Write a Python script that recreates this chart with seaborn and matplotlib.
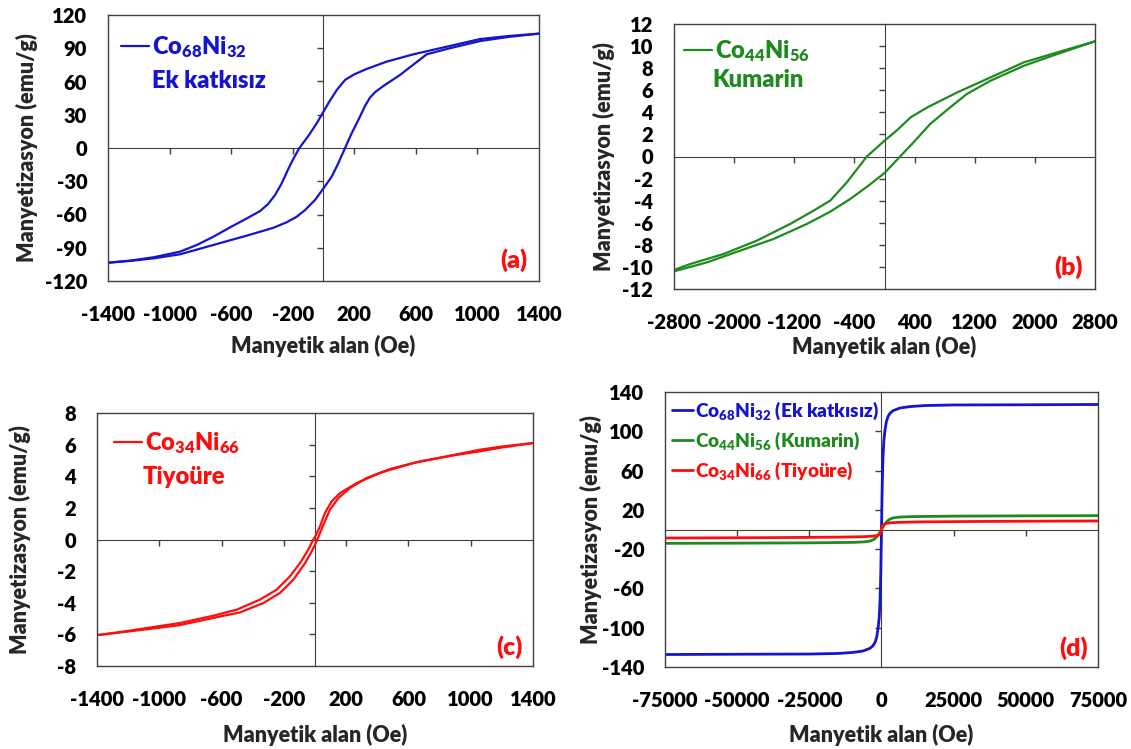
import matplotlib
matplotlib.use("Agg")
import matplotlib.pyplot as plt
import seaborn as sns

# ---- values ----
# (a) Co68Ni32, ek katkisiz
a_h_down = [1400, 1200, 1017, 800, 583, 410, 280, 200, 140, 86, 31, 0, -44, -99, -157,
            -196, -229, -272, -315, -360, -411, -498, -607, -715, -823, -932, -1100, -1250, -1400]
a_m_down = [103.2, 101, 98.3, 91.4, 84.5, 77.9, 71.3, 66.5, 61.4, 52.3, 40.3, 32.8, 22.3, 10.8, 0,
            -9.8, -19, -32, -42.5, -50.5, -56.8, -63.5, -71.6, -80, -87.5, -93.5, -98.5, -101.5, -103.5]
a_h_up = [-1400, -1250, -1100, -932, -716, -499, -326, -239, -174, -120, -55, 0, 53, 96, 140,
          183, 237, 270, 302, 340, 400, 497, 670, 800, 1017, 1200, 1400]
a_m_up = [-103.5, -101.8, -99.5, -95.9, -87.5, -79.1, -72, -67, -62, -56, -46.9, -36.4, -25.9, -13.8, 0,
          13.3, 28.3, 38, 45.5, 51, 57, 65.9, 84.5, 89.3, 96.5, 100.2, 103.2]

# (b) Co44Ni56, kumarin
b_h_down = [2800, 2298, 1855, 1412, 969, 570, 348, 170, 0, -235, -346, -501, -723,
            -945, -1255, -1698, -2141, -2585, -2800]
b_m_down = [10.43, 9.43, 8.53, 7.17, 5.81, 4.45, 3.55, 2.4, 1.43, 0, -0.98, -2.34, -4.0,
            -4.91, -6.11, -7.62, -8.83, -9.74, -10.28]
b_h_up = [-2800, -2363, -1920, -1476, -1033, -723, -457, -235, 0, 208, 386, 607, 873,
          1095, 1412, 1855, 2298, 2800]
b_m_up = [-10.4, -9.59, -8.53, -7.47, -6.11, -5.0, -3.85, -2.75, -1.5, 0, 1.28, 2.94, 4.45,
          5.66, 6.87, 8.22, 9.28, 10.43]

# (c) Co34Ni66, tiyoure
c_h_down = [1400, 1200, 1060, 846, 632, 417, 268, 161, 107, 64, 32, 0, -11, -43, -96, -161,
            -246, -353, -503, -653, -867, -1000, -1200, -1400]
c_m_down = [6.1, 5.88, 5.68, 5.26, 4.84, 4.21, 3.57, 2.94, 2.41, 1.68, 0.83, 0.16, 0, -0.64, -1.49, -2.33,
            -3.17, -3.80, -4.44, -4.82, -5.28, -5.48, -5.78, -6.05]
c_h_up = [-1400, -1200, -1000, -867, -653, -482, -332, -225, -139, -64, -21, 0, 15, 54, 96,
          150, 225, 332, 482, 675, 889, 1060, 1200, 1400]
c_m_up = [-6.05, -5.82, -5.58, -5.41, -4.96, -4.61, -4.02, -3.38, -2.54, -1.49, -0.75, -0.33, 0, 0.94, 1.89,
          2.62, 3.26, 3.89, 4.46, 4.94, 5.32, 5.58, 5.82, 6.1]

# (d) full field range, all three samples
d_h_blue = [-75000, -50000, -25000, -15000, -10000, -6400, -4000, -3000, -2250, -1700, -1200,
            -800, -500, -250, 0, 250, 500, 800, 1200, 1700, 2250, 3000, 4000, 6400, 10000,
            15000, 25000, 50000, 75000]
d_m_blue = [-127.3, -127, -126.8, -126.2, -125.2, -123.7, -121, -118.5, -115, -110, -101,
            -90, -72, -45, 0, 45, 72, 90, 101, 110, 115, 118.5, 121, 123.7, 125.2,
            126.2, 126.8, 127, 127.3]
d_h_green = [-75000, -50000, -25000, -10000, -6000, -4000, -2800, -2000, -1000, 0,
             1000, 2000, 2800, 4000, 6000, 10000, 25000, 50000, 75000]
d_m_green = [-14.1, -13.9, -13.6, -13.1, -12.6, -11.8, -10.4, -8.5, -5, 0,
             5, 8.5, 10.4, 11.8, 12.6, 13.1, 13.6, 13.9, 14.1]
d_h_red = [-75000, -40000, -15000, -6000, -3000, -1400, -600, -200, 0,
           200, 600, 1400, 3000, 6000, 15000, 40000, 75000]
d_m_red = [-8.7, -8.3, -7.8, -7.3, -6.8, -6.1, -4.7, -2.7, 0,
           2.7, 4.7, 6.1, 6.8, 7.3, 7.8, 8.3, 8.7]

blue = "#1414D2"
green = "#1F8A1F"
red = "#FF0D0D"

sns.set_style("white")
plt.rcParams["font.family"] = ["Lato", "DejaVu Sans"]
plt.rcParams["font.weight"] = "heavy"
plt.rcParams["axes.labelweight"] = "heavy"
plt.rcParams["axes.unicode_minus"] = False
plt.rcParams["mathtext.fontset"] = "custom"
plt.rcParams["mathtext.rm"] = "Lato:heavy"
plt.rcParams["mathtext.it"] = "Lato:heavy"
plt.rcParams["mathtext.bf"] = "Lato:heavy"

W, H = 1131, 749
fig = plt.figure(figsize=(W / 100, H / 100), dpi=100)


def make_axes(left, top, right, bottom):
    return fig.add_axes([left / W, 1 - bottom / H, (right - left) / W, (bottom - top) / H])


ax_a = make_axes(108, 15, 539, 281)
ax_b = make_axes(674, 24, 1095, 289)
ax_c = make_axes(97, 413, 533, 666)
ax_d = make_axes(665, 392, 1098, 667)


def style(ax, xlim, ylim, xticks, yticks, xinner, yinner, hpx, wpx, ylab_off, xlab_off):
    ax.set_xlim(xlim)
    ax.set_ylim(ylim)
    ax.set_xticks(xticks)
    ax.set_yticks(yticks)
    ax.tick_params(length=0, labelsize=14.5, labelcolor="black")
    ax.tick_params(axis="x", pad=17)
    ax.tick_params(axis="y", pad=15)
    for s in ax.spines.values():
        s.set_color("#404040")
        s.set_linewidth(1.0)
        s.set_visible(True)
    # axes crossing at zero with small ticks
    sx = ax.secondary_xaxis(0.5)
    sx.set_alignment("bottom")
    sx.set_xticks(xinner)
    sx.tick_params(direction="out", length=4, width=1, color="#404040",
                   labelbottom=False, labeltop=False)
    sx.spines["bottom"].set_color("#404040")
    sy = ax.secondary_yaxis(0.5)
    sy.set_alignment("left")
    sy.set_yticks(yinner)
    sy.tick_params(direction="out", length=4, width=1, color="#404040",
                   labelleft=False, labelright=False)
    sy.spines["left"].set_color("#404040")
    ax.set_xlabel("Manyetik alan (Oe)", fontsize=15.5)
    ax.set_ylabel("Manyetizasyon (emu/g)", fontsize=15.5)
    ax.xaxis.label.set_va("center")
    ax.yaxis.label.set_va("center")
    ax.xaxis.set_label_coords(0.5, -xlab_off / hpx)
    ax.yaxis.set_label_coords(-ylab_off / wpx, 0.5)


def loop(ax, hd, md, hu, mu, color, label, lw=1.6):
    sns.lineplot(x=hd, y=md, sort=False, estimator=None, color=color, linewidth=lw,
                 ax=ax, label=label)
    sns.lineplot(x=hu, y=mu, sort=False, estimator=None, color=color, linewidth=lw,
                 ax=ax, legend=False)


def tag(ax, x, y, x2, y2, sub):
    ax.legend(loc="center left", bbox_to_anchor=(x, y), frameon=False, borderpad=0,
              borderaxespad=0, handlelength=1.2, handletextpad=0.12, labelcolor="linecolor",
              prop={"size": 17, "weight": "heavy"})
    ax.text(x2, y2, sub, transform=ax.transAxes, ha="left", va="center",
            fontsize=17, color=ax.get_lines()[0].get_color())


def panel_tag(ax, text, x, y):
    ax.text(x, y, text, transform=ax.transAxes, ha="center", va="center",
            fontsize=18, color=red)


# (a)
loop(ax_a, a_h_down, a_m_down, a_h_up, a_m_up, blue, "Co$_{68}$Ni$_{32}$")
style(ax_a, (-1400, 1400), (-120, 120), range(-1400, 1401, 400), range(-120, 121, 30),
      [-1000, -600, -200, 200, 600, 1000], [-90, -60, -30, 30, 60, 90], 266, 431, 81, 65)
tag(ax_a, 0.030, 0.880, 0.102, 0.752, "Ek katkısız")
panel_tag(ax_a, "(a)", 0.941, 0.079)

# (b)
loop(ax_b, b_h_down, b_m_down, b_h_up, b_m_up, green, "Co$_{44}$Ni$_{56}$")
style(ax_b, (-2800, 2800), (-12, 12), range(-2800, 2801, 800), range(-12, 13, 2),
      [-2000, -1200, -400, 400, 1200, 2000], [-10, -8, -6, -4, -2, 2, 4, 6, 8, 10],
      265, 421, 70, 58)
tag(ax_b, 0.024, 0.898, 0.090, 0.789, "Kumarin")
panel_tag(ax_b, "(b)", 0.936, 0.083)

# (c)
loop(ax_c, c_h_down, c_m_down, c_h_up, c_m_up, red, "Co$_{34}$Ni$_{66}$")
style(ax_c, (-1400, 1400), (-8, 8), range(-1400, 1401, 400), range(-8, 9, 2),
      [-1000, -600, -200, 200, 600, 1000], [-6, -4, -2, 2, 4, 6], 253, 436, 77, 69)
tag(ax_c, 0.038, 0.881, 0.105, 0.747, "Tiyoüre")
panel_tag(ax_c, "(c)", 0.945, 0.075)

# (d)
sns.lineplot(x=d_h_blue, y=d_m_blue, sort=False, estimator=None, color=blue, linewidth=2.0,
             ax=ax_d, label="Co$_{68}$Ni$_{32}$ (Ek katkısız)")
sns.lineplot(x=d_h_green, y=d_m_green, sort=False, estimator=None, color=green, linewidth=2.0,
             ax=ax_d, label="Co$_{44}$Ni$_{56}$ (Kumarin)")
sns.lineplot(x=d_h_red, y=d_m_red, sort=False, estimator=None, color=red, linewidth=2.0,
             ax=ax_d, label="Co$_{34}$Ni$_{66}$ (Tiyoüre)")
style(ax_d, (-75000, 75000), (-140, 140), range(-75000, 75001, 25000), range(-140, 141, 40),
      [-50000, -25000, 25000, 50000], [-100, -60, -20, 20, 60, 100], 275, 433, 74, 68)
ax_d.legend(loc="center left", bbox_to_anchor=(0.016, 0.822), frameon=False, borderpad=0,
            borderaxespad=0, handlelength=1.1, handletextpad=0.1, labelspacing=0.4,
            labelcolor="linecolor", prop={"size": 13.7, "weight": "heavy"})
panel_tag(ax_d, "(d)", 0.944, 0.069)

fig.savefig("out.png", dpi=100)
